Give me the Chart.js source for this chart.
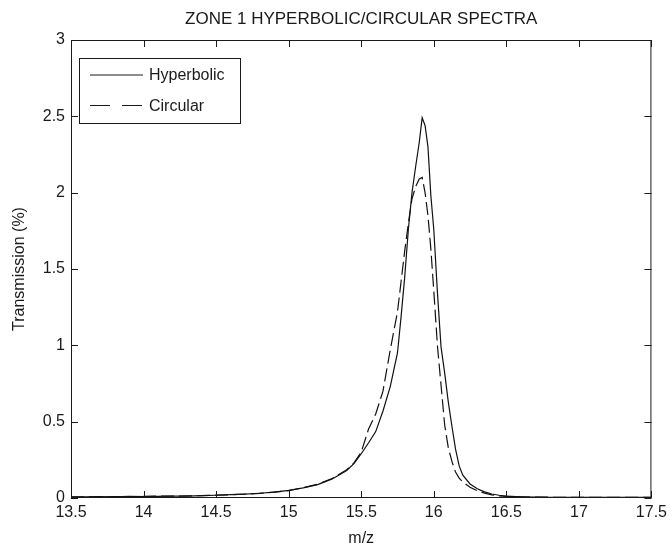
<!DOCTYPE html>
<html>
<head>
<meta charset="utf-8">
<script src="https://cdn.jsdelivr.net/npm/chart.js@4.4.1/dist/chart.umd.min.js"></script>
<style>
  html, body { margin: 0; padding: 0; background: #fff; }
  #wrap { width: 672px; height: 544px; }
</style>
</head>
<body>
<div id="wrap"><canvas id="spectra-chart" width="672" height="544"></canvas></div>
<script>
var chartTitle = 'ZONE 1 HYPERBOLIC/CIRCULAR SPECTRA';
var xTitle = 'm/z';
var yTitle = 'Transmission (%)';
var seriesNames = ['Hyperbolic', 'Circular'];

var mz = [13.5, 13.6, 13.7, 13.8, 13.9, 14.0, 14.1, 14.2, 14.3, 14.4,
          14.5, 14.6, 14.7, 14.8, 14.9, 15.0, 15.1, 15.2, 15.3, 15.4,
          15.45, 15.5, 15.55, 15.6, 15.65, 15.7, 15.75, 15.775, 15.8, 15.825,
          15.85, 15.875, 15.9, 15.92, 15.94, 15.96, 15.98, 16.0, 16.025, 16.05,
          16.075, 16.1, 16.125, 16.15, 16.175, 16.2, 16.25, 16.3, 16.35, 16.4,
          16.45, 16.5, 16.6, 16.7, 16.8, 16.9, 17.0, 17.1, 17.2, 17.3,
          17.4, 17.5];

var hyperbolic = [0.008, 0.007, 0.009, 0.008, 0.010, 0.009, 0.011, 0.013, 0.012, 0.016,
                  0.018, 0.022, 0.025, 0.031, 0.038, 0.050, 0.066, 0.088, 0.125, 0.180,
                  0.225, 0.290, 0.360, 0.435, 0.570, 0.730, 0.950, 1.190, 1.450, 1.760,
                  2.000, 2.170, 2.330, 2.490, 2.440, 2.300, 1.980, 1.760, 1.350, 0.990,
                  0.820, 0.630, 0.470, 0.320, 0.210, 0.150, 0.092, 0.060, 0.040, 0.026,
                  0.018, 0.012, 0.008, 0.006, 0.005, 0.005, 0.004, 0.004, 0.004, 0.005,
                  0.004, 0.004];

var circular = [0.006, 0.008, 0.007, 0.009, 0.008, 0.010, 0.012, 0.012, 0.014, 0.015,
                0.019, 0.021, 0.026, 0.030, 0.039, 0.048, 0.067, 0.090, 0.128, 0.185,
                0.230, 0.300, 0.450, 0.550, 0.700, 0.970, 1.220, 1.420, 1.620, 1.800,
                1.960, 2.040, 2.090, 2.100, 2.000, 1.850, 1.630, 1.360, 1.000, 0.740,
                0.480, 0.330, 0.240, 0.170, 0.130, 0.105, 0.070, 0.048, 0.032, 0.021,
                0.014, 0.010, 0.007, 0.006, 0.005, 0.004, 0.005, 0.004, 0.005, 0.004,
                0.005, 0.004];

var xMin = 13.5, xMax = 17.5, xStep = 0.5;
var yMin = 0, yMax = 3, yStep = 0.5;

function toPoints(xs, ys) {
    var pts = [];
    for (var i = 0; i < xs.length; i++) {
        pts.push({x: xs[i], y: ys[i]});
    }
    return pts;
}

// 14 not 14.0, 2.5 stays 2.5
function plainNumber(value) {
    return String(+value.toFixed(2));
}

Chart.defaults.font.family = "'Liberation Sans', Arial, sans-serif";
Chart.defaults.font.size = 16;
Chart.defaults.color = '#1a1a1a';

// matlab style box with inward ticks on all four sides
var boxTicks = {
    id: 'boxTicks',
    afterDatasetsDraw: function(chart) {
        var ctx = chart.ctx, a = chart.chartArea;
        var len = 7;
        ctx.save();
        ctx.strokeStyle = '#1a1a1a';
        ctx.lineWidth = 1;
        ctx.beginPath();
        ctx.rect(a.left + 0.5, a.top + 0.5, a.right - a.left - 1, a.bottom - a.top - 1);
        chart.scales.x.ticks.forEach(function(t) {
            var px = Math.round(chart.scales.x.getPixelForValue(t.value)) + 0.5;
            ctx.moveTo(px, a.bottom); ctx.lineTo(px, a.bottom - len);
            ctx.moveTo(px, a.top); ctx.lineTo(px, a.top + len);
        });
        chart.scales.y.ticks.forEach(function(t) {
            var py = Math.round(chart.scales.y.getPixelForValue(t.value)) + 0.5;
            ctx.moveTo(a.left, py); ctx.lineTo(a.left + len, py);
            ctx.moveTo(a.right, py); ctx.lineTo(a.right - len, py);
        });
        ctx.stroke();
        ctx.restore();
    }
};

// legend box drawn inside the plot, top left
var boxLegend = {
    id: 'boxLegend',
    afterDraw: function(chart) {
        var ctx = chart.ctx, a = chart.chartArea;
        var bx = a.left + 8, by = a.top + 18, bw = 161, bh = 65;
        var dashes = [[], [20, 12]];
        ctx.save();
        ctx.fillStyle = '#fff';
        ctx.fillRect(bx, by, bw, bh);
        ctx.strokeStyle = '#1a1a1a';
        ctx.lineWidth = 1;
        ctx.strokeRect(bx + 0.5, by + 0.5, bw, bh);
        ctx.font = "16px 'Liberation Sans', Arial, sans-serif";
        ctx.textBaseline = 'middle';
        ctx.fillStyle = '#1a1a1a';
        chart.data.datasets.forEach(function(ds, i) {
            var ly = by + 17 + i * 30.5;
            ctx.setLineDash(dashes[i]);
            ctx.lineWidth = 1.2;
            ctx.beginPath();
            ctx.moveTo(bx + 11, ly);
            ctx.lineTo(bx + 64, ly);
            ctx.stroke();
            ctx.setLineDash([]);
            ctx.fillText(ds.label, bx + 70, ly + 1);
        });
        ctx.restore();
    }
};

var ctx = document.getElementById('spectra-chart');
var chart = new Chart(ctx, {
    type: 'line',
    data: {
        datasets: [{
            label: seriesNames[0],
            data: toPoints(mz, hyperbolic),
            borderColor: '#111',
            borderWidth: 1.2,
            pointRadius: 0,
            tension: 0,
            fill: false
        }, {
            label: seriesNames[1],
            data: toPoints(mz, circular),
            borderColor: '#111',
            borderWidth: 1.2,
            borderDash: [13, 5],
            pointRadius: 0,
            tension: 0,
            fill: false
        }]
    },
    options: {
        responsive: false,
        animation: false,
        layout: { padding: { left: 0, right: 18, top: 0, bottom: 0 } },
        plugins: {
            legend: { display: false },
            tooltip: { enabled: false },
            title: {
                display: true,
                fullSize: false,
                text: chartTitle,
                color: '#1a1a1a',
                font: { size: 17, weight: 'normal', lineHeight: 1.2 },
                padding: { top: 9, bottom: 10.6 }
            }
        },
        scales: {
            x: {
                type: 'linear',
                min: xMin,
                max: xMax,
                grid: { display: false, drawTicks: false },
                border: { display: false },
                ticks: { stepSize: xStep, padding: 5, maxRotation: 0, autoSkip: false, callback: plainNumber },
                title: {
                    display: true,
                    text: xTitle,
                    font: { size: 16, lineHeight: 1 },
                    padding: { top: 0, bottom: -3 }
                },
                afterFit: function(scale) { scale.height = 46; }
            },
            y: {
                type: 'linear',
                min: yMin,
                max: yMax,
                grid: { display: false, drawTicks: false },
                border: { display: false },
                ticks: { stepSize: yStep, padding: 6, callback: plainNumber },
                title: {
                    display: true,
                    text: yTitle,
                    font: { size: 16, lineHeight: 1.2 },
                    padding: { top: 10, bottom: 0 }
                },
                afterFit: function(scale) { scale.width = 71; }
            }
        }
    },
    plugins: [boxTicks, boxLegend]
});
console.log('spectra::chartArea', JSON.stringify(chart.chartArea));
</script>
</body>
</html>
